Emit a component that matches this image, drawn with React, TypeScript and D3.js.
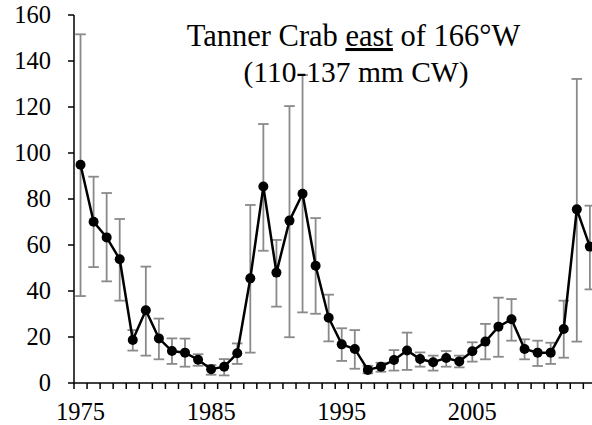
import React from "react";
import * as d3 from "d3";

const years: number[] = [
  1975, 1976, 1977, 1978, 1979, 1980, 1981, 1982, 1983, 1984,
  1985, 1986, 1987, 1988, 1989, 1990, 1991, 1992, 1993, 1994,
  1995, 1996, 1997, 1998, 1999, 2000, 2001, 2002, 2003, 2004,
  2005, 2006, 2007, 2008, 2009, 2010, 2011, 2012, 2013, 2014,
];
const values: number[] = [
  94.9, 70.1, 63.3, 53.8, 18.7, 31.6, 19.4, 13.9, 13.2, 10.1,
  6.0, 7.1, 12.9, 45.5, 85.4, 48.0, 70.6, 82.3, 51.0, 28.4,
  16.8, 14.8, 5.7, 7.1, 10.0, 14.1, 10.4, 9.0, 10.9, 9.4,
  13.8, 18.0, 24.5, 27.7, 14.8, 13.2, 13.2, 23.5, 75.5, 59.3,
];
const upper: number[] = [
  151.6, 89.7, 82.6, 71.3, 23.0, 50.6, 28.0, 19.4, 19.3, 12.5,
  7.8, 10.4, 17.2, 77.4, 112.6, 62.2, 120.4, 133.9, 71.7, 38.4,
  23.8, 23.0, 7.5, 8.8, 14.3, 21.9, 13.3, 11.9, 13.9, 11.9,
  17.7, 25.7, 37.1, 36.5, 19.0, 18.4, 17.5, 35.8, 132.2, 77.1,
];
const lower: number[] = [
  37.8, 50.4, 44.2, 35.8, 14.1, 11.9, 10.3, 8.3, 7.1, 7.5,
  3.6, 3.3, 8.3, 13.2, 57.5, 33.2, 19.9, 30.7, 30.1, 18.1,
  9.6, 6.2, 4.2, 4.9, 5.4, 5.7, 7.1, 5.4, 7.1, 6.8,
  9.3, 10.3, 11.4, 18.4, 10.3, 7.4, 8.3, 11.0, 18.0, 40.7,
];
const yTicks: number[] = [0, 20, 40, 60, 80, 100, 120, 140, 160];
const xLabelYears: number[] = [1975, 1985, 1995, 2005];

const W = 592;
const H = 425;
const FONT = "'Liberation Serif', 'Times New Roman', serif";

export default function App() {
  const x0 = 74;
  const step = 13.06;
  const x = d3
    .scaleBand<number>()
    .domain(years)
    .range([x0, x0 + years.length * step])
    .padding(0);
  const y = d3.scaleLinear().domain([0, 160]).range([383, 15]);
  const cx = (yr: number) => (x(yr) as number) + x.bandwidth() / 2;

  const line = d3
    .line<number>()
    .x((_, i) => cx(years[i]))
    .y((d) => y(d));

  const boundaries = d3.range(years.length + 1).map((i) => x0 + i * x.step());
  const textStyle = { fontFamily: FONT };

  return (
    <svg
      width={W}
      height={H}
      style={{ position: "absolute", left: 0, top: 0, background: "#fff", fontFamily: FONT }}
    >
      {/* error bars */}
      <g stroke="#8a8a8a" strokeWidth={1.8} fill="none">
        {years.map((yr, i) => {
          const c = cx(yr);
          return (
            <g key={yr}>
              <line x1={c} x2={c} y1={y(upper[i])} y2={y(lower[i])} />
              <line x1={c - 5.3} x2={c + 5.3} y1={y(upper[i])} y2={y(upper[i])} />
              <line x1={c - 5.3} x2={c + 5.3} y1={y(lower[i])} y2={y(lower[i])} />
            </g>
          );
        })}
      </g>
      {/* axes */}
      <g stroke="#000" strokeWidth={1.5}>
        <line x1={x0} x2={x0} y1={y(160)} y2={y(0)} />
        <line x1={x0} x2={W} y1={y(0)} y2={y(0)} />
        {yTicks.map((t) => (
          <line key={t} x1={x0 - 6} x2={x0} y1={y(t)} y2={y(t)} />
        ))}
        {boundaries.map((b, i) => (
          <line key={i} x1={b} x2={b} y1={y(0)} y2={y(0) + 6} />
        ))}
      </g>
      <g fontSize={24.5} fill="#000" textAnchor="end" style={textStyle}>
        {yTicks.map((t) => (
          <text key={t} x={51} y={y(t) + 8}>
            {t}
          </text>
        ))}
      </g>
      <g fontSize={24.5} fill="#000" textAnchor="middle" style={textStyle}>
        {xLabelYears.map((yr) => (
          <text key={yr} x={cx(yr)} y={419.5}>
            {yr}
          </text>
        ))}
      </g>
      {/* series */}
      <path d={line(values) as string} fill="none" stroke="#000" strokeWidth={2.5} />
      <g fill="#000">
        {years.map((yr, i) => (
          <circle key={yr} cx={cx(yr)} cy={y(values[i])} r={5} />
        ))}
      </g>
      {/* title */}
      <text x={353.5} y={46} fontSize={30.5} textAnchor="middle" fill="#000" style={textStyle}>
        Tanner Crab{" "}
        <tspan style={{ textDecoration: "underline" }}>east</tspan> of 166°W
      </text>
      <text x={356} y={81.5} fontSize={29.5} textAnchor="middle" fill="#000" style={textStyle}>
        (110-137 mm CW)
      </text>
    </svg>
  );
}
